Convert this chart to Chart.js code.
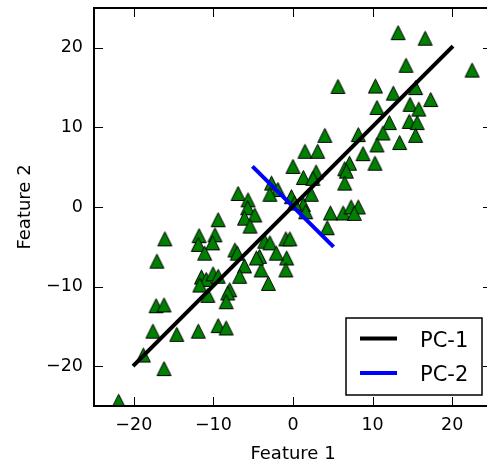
<!DOCTYPE html>
<html>
<head>
<meta charset="utf-8">
<script src="https://cdn.jsdelivr.net/npm/chart.js@4.4.1/dist/chart.umd.min.js"></script>
<style>
  html, body { margin: 0; padding: 0; background: #fff; overflow: hidden; }
  #wrap { width: 500px; height: 463px; }
</style>
</head>
<body>
<div id="wrap"><canvas id="pca" width="500" height="463"></canvas></div>
<script>
// scatter samples (Feature 1, Feature 2)
const featureX = [
  13.2, 16.6, 14.2, 22.5, 10.35, 5.65, 15.4, 12.6, 17.3, 14.7,
  10.55, 15.8, 12.1, 14.6, 15.6, 11.3, 4.0, 8.2, 15.4, 10.55,
  13.4, 8.8, 10.3, 7.1, 6.5, 6.7, 6.5, 1.5, 3.1, 0.0,
  1.3, 2.9, 2.5, 4.7, 6.3, 7.3, 8.2, 7.7, 4.3, -0.9,
  -0.4, -0.8, -0.9, -2.7, -1.9, -2.9, -0.2, 1.3, 2.3, 0.2,
  1.6, -6.9, -5.65, -5.7, -4.8, -6.1, -5.4, -3.55, -2.9, -4.2,
  -2.1, -7.3, -6.1, -9.4, -16.1, -11.8, -9.8, -11.9, -10.1, -11.1,
  -17.1, -4.0, -6.7, -3.1, -11.5, -10.9, -10.05, -9.4, -11.7, -10.7,
  -7.95, -8.2, -8.4, -17.2, -16.2, -17.6, -14.6, -11.9, -9.4, -8.4,
  -18.8, -16.2, -21.9, -4.6, -7.0
];
const featureY = [
  21.9, 21.2, 17.8, 17.2, 15.2, 15.15, 15.0, 14.3, 13.5, 12.9,
  12.5, 12.3, 10.6, 10.75, 10.6, 9.3, 9.0, 9.1, 9.0, 7.8,
  8.1, 6.7, 5.5, 5.5, 4.8, 4.5, 3.0, 7.0, 7.0, 5.1,
  3.7, 4.4, 3.6, -0.75, -0.75, 0.0, 0.0, -0.8, -2.6, -4.0,
  -4.0, -6.4, -7.9, 3.0, 2.2, 1.6, 1.3, 0.3, 1.6, 0.5,
  -0.6, 1.7, 0.9, -0.1, -1.0, -1.4, -2.4, -4.3, -4.5, -6.2,
  -5.8, -5.4, -7.4, -1.6, -4.0, -3.6, -3.5, -4.7, -4.5, -5.8,
  -6.8, -7.9, -8.7, -9.6, -8.8, -9.1, -8.4, -8.7, -9.8, -11.1,
  -10.4, -10.8, -11.9, -12.4, -12.3, -15.6, -16.0, -15.6, -14.9, -15.2,
  -18.6, -20.3, -24.4, -6.4, -5.8
];

// principal component segments
const pc1X = [-20.1, 20.1];
const pc1Y = [-20.0, 20.2];
const pc2X = [-5.1, 5.1];
const pc2Y = [5.1, -5.0];
const seriesLabels = ['PC-1', 'PC-2'];

const axisTicks = [-20, -10, 0, 10, 20];
const axisMin = -25;
const axisMax = 25;

const FONT = 'DejaVu Sans';
const minus = v => (v < 0 ? '\u2212' + Math.abs(v) : String(v));

// matplotlib-like '^' marker, centred on the point
function triangleMarker() {
  const c = document.createElement('canvas');
  c.width = 17; c.height = 17;
  const g = c.getContext('2d');
  g.beginPath();
  g.moveTo(8.5, 1.5);
  g.lineTo(15.5, 15.5);
  g.lineTo(1.5, 15.5);
  g.closePath();
  g.fillStyle = '#008000';
  g.fill();
  g.lineWidth = 1;
  g.strokeStyle = '#000';
  g.stroke();
  return c;
}

const frame = {
  id: 'frame',
  afterDatasetsDraw(chart) {
    const { ctx, chartArea: a, scales: { x, y } } = chart;
    ctx.save();
    ctx.strokeStyle = '#000';
    ctx.lineWidth = 1;
    ctx.beginPath();
    axisTicks.forEach(v => {
      const px = Math.round(x.getPixelForValue(v)) + 0.5;
      ctx.moveTo(px, a.bottom); ctx.lineTo(px, a.bottom - 9);
      ctx.moveTo(px, a.top); ctx.lineTo(px, a.top + 9);
      const py = Math.round(y.getPixelForValue(v)) + 0.5;
      ctx.moveTo(a.left, py); ctx.lineTo(a.left + 9, py);
      ctx.moveTo(a.right, py); ctx.lineTo(a.right - 9, py);
    });
    ctx.stroke();
    ctx.lineWidth = 2;
    ctx.strokeRect(a.left, a.top, a.right - a.left, a.bottom - a.top);

    // legend, lower right
    const bw = 136, bh = 77;
    const bx = a.right - 146, by = a.bottom - 88;
    ctx.fillStyle = '#fff';
    ctx.fillRect(bx, by, bw, bh);
    ctx.lineWidth = 1.5;
    ctx.strokeRect(bx, by, bw, bh);
    chart.data.datasets.filter(d => d.type === 'line').forEach((d, i) => {
      const ly = by + 20.5 + i * 34.5;
      ctx.strokeStyle = d.borderColor;
      ctx.lineWidth = 4;
      ctx.beginPath();
      ctx.moveTo(bx + 14, ly);
      ctx.lineTo(bx + 51, ly);
      ctx.stroke();
      ctx.fillStyle = '#000';
      ctx.font = '21px "' + FONT + '"';
      ctx.textBaseline = 'alphabetic';
      ctx.textAlign = 'left';
      ctx.fillText(d.label, bx + 74, ly + 8);
    });
    ctx.restore();
  }
};

const tickFont = { family: FONT, size: 17.5 };
const titleFont = { family: FONT, size: 18 };

new Chart(document.getElementById('pca'), {
  data: {
    datasets: [
      {
        type: 'line',
        label: seriesLabels[0],
        data: pc1X.map((v, i) => ({ x: v, y: pc1Y[i] })),
        borderColor: '#000',
        borderWidth: 4,
        borderCapStyle: 'butt',
        pointRadius: 0,
        order: 0
      },
      {
        type: 'line',
        label: seriesLabels[1],
        data: pc2X.map((v, i) => ({ x: v, y: pc2Y[i] })),
        borderColor: '#0000ff',
        borderWidth: 4,
        borderCapStyle: 'butt',
        pointRadius: 0,
        order: 0
      },
      {
        type: 'scatter',
        label: 'samples',
        data: featureX.map((v, i) => ({ x: v, y: featureY[i] })),
        pointStyle: triangleMarker(),
        order: 1
      }
    ]
  },
  options: {
    responsive: false,
    animation: false,
    events: [],
    layout: { padding: { top: 8, right: 8, left: 0, bottom: 0 } },
    plugins: { legend: { display: false }, tooltip: { enabled: false } },
    scales: {
      x: {
        type: 'linear',
        min: axisMin,
        max: axisMax,
        afterBuildTicks: s => { s.ticks = axisTicks.map(v => ({ value: v })); },
        afterFit: s => { s.height = 57; s.paddingLeft = 0; s.paddingRight = 0; },
        grid: { display: false, drawTicks: false },
        border: { display: false },
        ticks: { color: '#000', font: tickFont, padding: 9, maxRotation: 0, autoSkip: false, callback: minus },
        title: { display: true, text: 'Feature 1', color: '#000', font: titleFont, padding: { top: 0, bottom: -2 } }
      },
      y: {
        type: 'linear',
        min: axisMin,
        max: axisMax,
        afterBuildTicks: s => { s.ticks = axisTicks.map(v => ({ value: v })); },
        afterFit: s => { s.width = 94; s.paddingTop = 0; s.paddingBottom = 0; },
        grid: { display: false, drawTicks: false },
        border: { display: false },
        ticks: { color: '#000', font: tickFont, padding: 11, autoSkip: false, callback: minus },
        title: { display: true, text: 'Feature 2', color: '#000', font: titleFont, padding: { top: 15, bottom: 0 } }
      }
    }
  },
  plugins: [frame]
});
</script>
</body>
</html>
